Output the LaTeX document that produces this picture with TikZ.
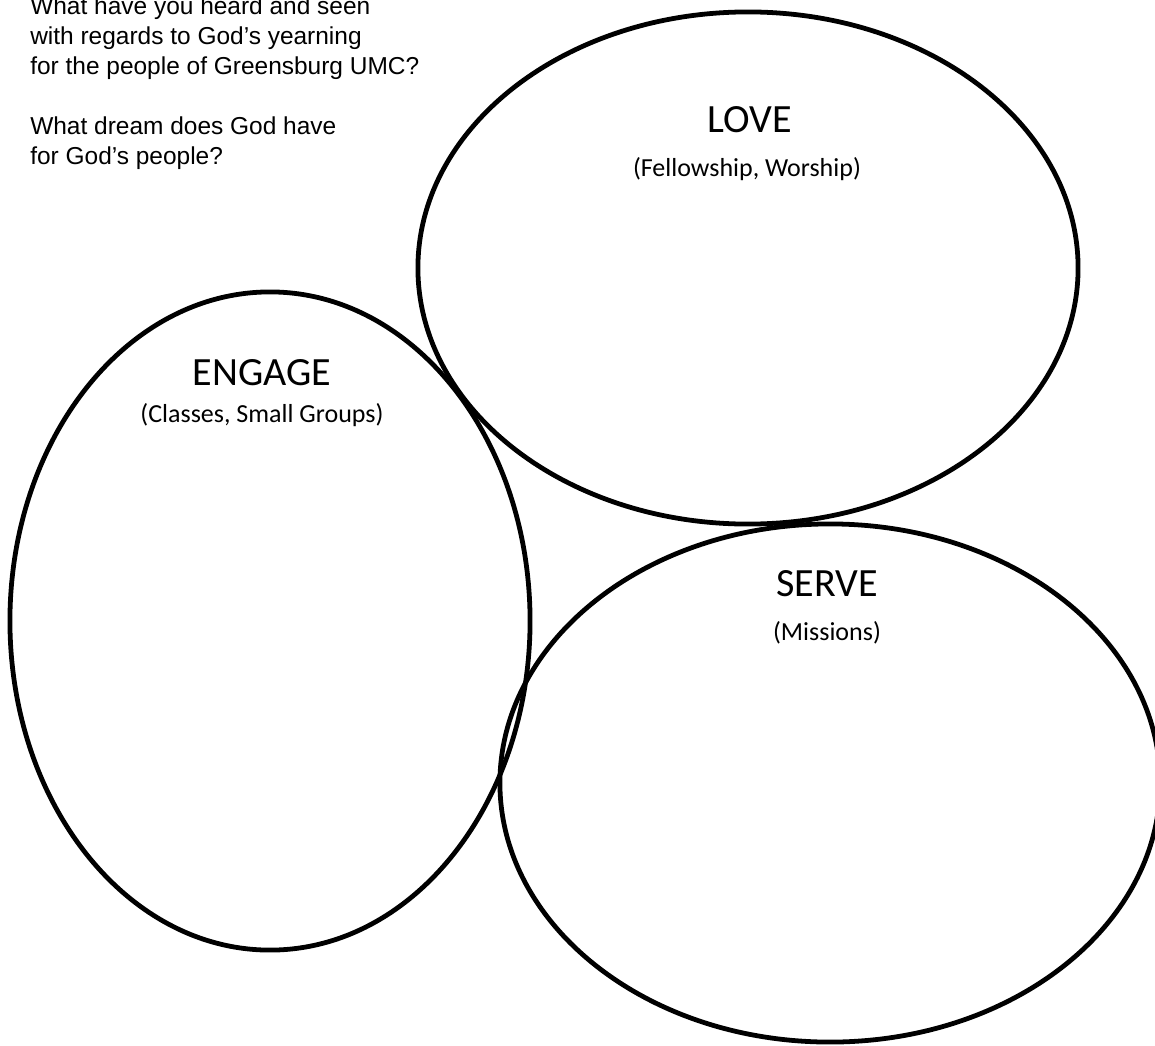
\documentclass[tikz,border=0pt]{standalone}
\usepackage{fontspec}
\setmainfont{Liberation Sans}
\newfontfamily\handfont{Carlito}
\usetikzlibrary{shapes.geometric}

\begin{document}
\begin{tikzpicture}[x=0.025cm, y=-0.025cm,
    %Option for the rings
    ring/.style={draw, ellipse, line width=3.4pt, inner sep=0pt},
    title/.style={font=\handfont\fontsize{28.5pt}{32pt}\selectfont, anchor=base},
    sub/.style={font=\handfont\fontsize{18.5pt}{22pt}\selectfont, anchor=base},
    question/.style={font=\fontsize{17.4pt}{21.3pt}\selectfont, align=left, anchor=base west, inner sep=0pt},
]
    % Page
    \useasboundingbox (0,0) rectangle (1155,1045);

    % Rings
    \node[ring, minimum width=16.5cm, minimum height=12.8cm] (love) at (748,268) {};
    \node[ring, minimum width=13cm, minimum height=16.45cm] (engage) at (270,621) {};
    \node[ring, minimum width=16.5cm, minimum height=12.95cm] (serve) at (830,783) {};

    % Labels
    \node[title] (loveT) at (750,132) {LOVE};
    \node[sub] (loveS) at (747,176) {(Fellowship, Worship)};
    \node[title] (engageT) at (262,385) {ENGAGE};
    \node[sub] (engageS) at (262,422) {(Classes, Small Groups)};
    \node[title] (serveT) at (827,596) {SERVE};
    \node[sub] (serveS) at (827,640) {(Missions)};

    % Questions (base is the last line)
    \node[question] (ask) at (30,164) {What have you heard and seen\\
        with regards to God’s yearning\\
        for the people of Greensburg UMC?\\[21.3pt]
        What dream does God have\\
        for God’s people?};
\end{tikzpicture}
\end{document}
